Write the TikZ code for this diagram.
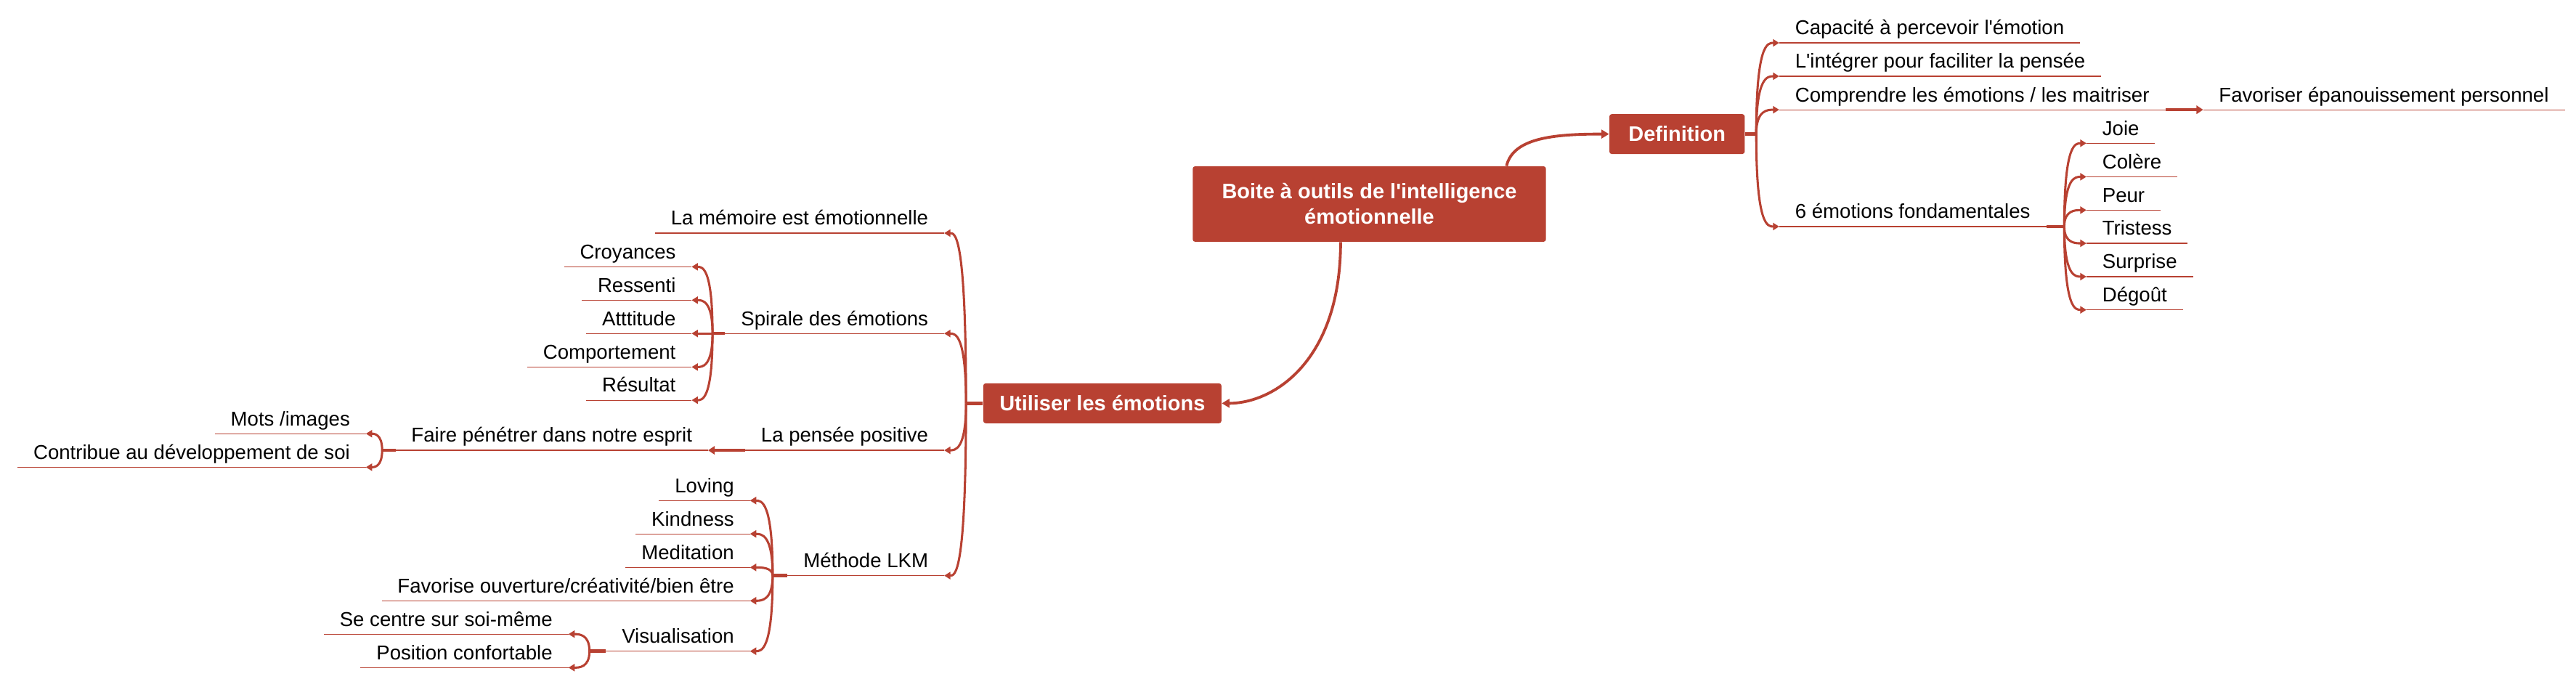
\documentclass[tikz,border=0pt]{standalone}
\usepackage{fontspec}
\setmainfont{Liberation Sans}
\usetikzlibrary{arrows.meta,calc}
\definecolor{boxred}{RGB}{184,65,50}
\newcommand{\apos}{\textquotesingle}
\begin{document}
\begin{tikzpicture}[
    x=1pt,y=-1pt,
    box/.style={fill=boxred,text=white,font=\fontsize{12.8}{15.5}\selectfont\bfseries,rounded corners=1.5pt,inner sep=0pt,minimum height=24.3pt},
    uline/.style={draw=boxred,line width=0.5pt},
    topic/.style={font=\fontsize{12.2}{14}\selectfont,inner xsep=9.5pt,inner ysep=2.1pt,text height=9pt,text depth=2.6pt,
        append after command={(\tikzlastnode.south west) edge[uline] (\tikzlastnode.south east)}},
    rtopic/.style={topic,anchor=south west},
    ltopic/.style={topic,anchor=south east},
    conn/.style={draw=boxred,line width=1.35pt,-{Triangle[length=3.8pt,width=4.4pt]}},
    mainconn/.style={draw=boxred,line width=1.7pt,-{Triangle[length=4.6pt,width=5.2pt]}},
    stub/.style={draw=boxred,line width=2pt},
    branch/.style={to path={.. controls (\tikztostart |- \tikztotarget) and ($(\tikztostart |- \tikztotarget)!0.5!(\tikztotarget)$) .. (\tikztotarget)}}
    ]
	\useasboundingbox (0,0) rectangle (1568,413.3);
	\node [box,minimum width=215pt,minimum height=46pt,align=center] (root) at (833.5,124.2) {Boite à outils de l\apos intelligence\\émotionnelle};
	\node [box,minimum width=82.4pt] (def) at (1020.8,81.6) {Definition};
	\node [box,minimum width=145pt] (util) at (671,245.5) {Utiliser les émotions};

	\node [rtopic] (cap) at (1083,26.1) {Capacité à percevoir l\apos émotion};
	\node [rtopic] (integ) at (1083,46.4) {L\apos intégrer pour faciliter la pensée};
	\node [rtopic] (compr) at (1083,66.8) {Comprendre les émotions / les maitriser};
	\node [rtopic] (favor) at (1341,66.8) {Favoriser épanouissement personnel};
	\node [rtopic] (fond) at (1083,137.9) {6 émotions fondamentales};
	\node [rtopic] (joie) at (1270,87.2) {Joie};
	\node [rtopic] (colere) at (1270,107.6) {Colère};
	\node [rtopic] (peur) at (1270,127.9) {Peur};
	\node [rtopic] (trist) at (1270,148.1) {Tristess};
	\node [rtopic] (surpr) at (1270,168.4) {Surprise};
	\node [rtopic] (degout) at (1270,188.6) {Dégoût};

	\node [ltopic] (memo) at (574.7,141.9) {La mémoire est émotionnelle};
	\node [ltopic] (spir) at (574.7,203) {Spirale des émotions};
	\node [ltopic] (croy) at (421,162.4) {Croyances};
	\node [ltopic] (ress) at (421,182.7) {Ressenti};
	\node [ltopic] (attit) at (421,203) {Atttitude};
	\node [ltopic] (compo) at (421,223.4) {Comportement};
	\node [ltopic] (resul) at (421,243.6) {Résultat};
	\node [ltopic] (pens) at (574.7,274.1) {La pensée positive};
	\node [ltopic] (faire) at (431,274.1) {Faire pénétrer dans notre esprit};
	\node [ltopic] (mots) at (222.7,264) {Mots /images};
	\node [ltopic] (contr) at (222.7,284.4) {Contribue au développement de soi};
	\node [ltopic] (lkm) at (574.7,350.4) {Méthode LKM};
	\node [ltopic] (lov) at (456.5,304.7) {Loving};
	\node [ltopic] (kind) at (456.5,325) {Kindness};
	\node [ltopic] (medit) at (456.5,345.4) {Meditation};
	\node [ltopic] (favo) at (456.5,365.7) {Favorise ouverture/créativité/bien être};
	\node [ltopic] (visu) at (456.5,396.4) {Visualisation};
	\node [ltopic] (centre) at (346,386) {Se centre sur soi-même};
	\node [ltopic] (posit) at (346,406.4) {Position confortable};

	\coordinate (defj) at (1069,81.6);
	\coordinate (fondj) at (1256.5,137.9);
	\coordinate (utilj) at (588,245.5);
	\coordinate (spirj) at (433.7,203);
	\coordinate (fairej) at (232.6,274.1);
	\coordinate (lkmj) at (470.3,350.4);
	\coordinate (visuj) at (358.8,396.4);

	\draw [mainconn] ([xshift=83.5pt]root.north) .. controls +(4,-17) and +(-34,0) .. (def.west);
	\draw [mainconn] ([xshift=-17.5pt]root.south) .. controls +(0,72) and +(32,0) .. (util.east);

	\draw [stub] (def.east) -- (defj);
	\draw [conn] (defj) to[branch] (cap.south west);
	\draw [conn] (defj) to[branch] (integ.south west);
	\draw [conn] (defj) to[branch] (compr.south west);
	\draw [conn] (defj) to[branch] (fond.south west);
	\draw [stub,-{Triangle[length=4pt,width=5pt]}] (compr.south east) -- (favor.south west);

	\draw [stub] (fond.south east) -- (fondj);
	\draw [conn] (fondj) to[branch] (joie.south west);
	\draw [conn] (fondj) to[branch] (colere.south west);
	\draw [conn] (fondj) to[branch] (peur.south west);
	\draw [conn] (fondj) to[branch] (trist.south west);
	\draw [conn] (fondj) to[branch] (surpr.south west);
	\draw [conn] (fondj) to[branch] (degout.south west);

	\draw [stub] (util.west) -- (utilj);
	\draw [conn] (utilj) to[branch] (memo.south east);
	\draw [conn] (utilj) to[branch] (spir.south east);
	\draw [conn] (utilj) to[branch] (pens.south east);
	\draw [conn] (utilj) to[branch] (lkm.south east);

	\draw [stub] (spir.south west) -- (spirj);
	\draw [conn] (spirj) to[branch] (croy.south east);
	\draw [conn] (spirj) to[branch] (ress.south east);
	\draw [conn] (spirj) to[branch] (attit.south east);
	\draw [conn] (spirj) to[branch] (compo.south east);
	\draw [conn] (spirj) to[branch] (resul.south east);

	\draw [stub,-{Triangle[length=4pt,width=5pt]}] (pens.south west) -- (faire.south east);
	\draw [stub] (faire.south west) -- (fairej);
	\draw [conn] (fairej) to[branch] (mots.south east);
	\draw [conn] (fairej) to[branch] (contr.south east);

	\draw [stub] (lkm.south west) -- (lkmj);
	\draw [conn] (lkmj) to[branch] (lov.south east);
	\draw [conn] (lkmj) to[branch] (kind.south east);
	\draw [conn] (lkmj) to[branch] (medit.south east);
	\draw [conn] (lkmj) to[branch] (favo.south east);
	\draw [conn] (lkmj) to[branch] (visu.south east);

	\draw [stub] (visu.south west) -- (visuj);
	\draw [conn] (visuj) to[branch] (centre.south east);
	\draw [conn] (visuj) to[branch] (posit.south east);
\end{tikzpicture}
\end{document}
